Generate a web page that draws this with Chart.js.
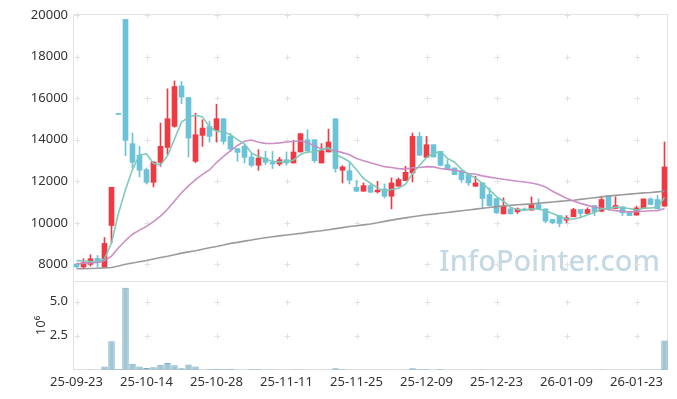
<!DOCTYPE html>
<html><head><meta charset="utf-8">
<script src="https://cdn.jsdelivr.net/npm/chart.js@4.4.1/dist/chart.umd.min.js"></script>
<style>html,body{margin:0;padding:0;background:#fff;}#wrap{position:relative;width:677px;height:399px;}</style>
</head><body><div id="wrap"><canvas id="c" width="677" height="399"></canvas></div>
<script>
const dates = ['25-09-23','25-09-24','25-09-25','25-09-26','25-09-29','25-09-30','25-10-01','25-10-02','25-10-10','25-10-13',
'25-10-14','25-10-15','25-10-16','25-10-17','25-10-20','25-10-21','25-10-22','25-10-23','25-10-24','25-10-27',
'25-10-28','25-10-29','25-10-30','25-10-31','25-11-03','25-11-04','25-11-05','25-11-06','25-11-07','25-11-10',
'25-11-11','25-11-12','25-11-13','25-11-14','25-11-17','25-11-18','25-11-19','25-11-20','25-11-21','25-11-24',
'25-11-25','25-11-26','25-11-27','25-11-28','25-12-01','25-12-02','25-12-03','25-12-04','25-12-05','25-12-08',
'25-12-09','25-12-10','25-12-11','25-12-12','25-12-15','25-12-16','25-12-17','25-12-18','25-12-19','25-12-22',
'25-12-23','25-12-24','25-12-26','25-12-29','25-12-30','26-01-02','26-01-05','26-01-06','26-01-07','26-01-08',
'26-01-09','26-01-12','26-01-13','26-01-14','26-01-15','26-01-16','26-01-19','26-01-20','26-01-21','26-01-22',
'26-01-23','26-01-26','26-01-27','26-01-28','26-01-29'];

const opens = [8010,7870,8000,8290,7870,9870,15220,19790,13810,13250,
12560,11950,12910,13630,14640,16590,16030,12960,14210,14640,
14450,15010,14160,13570,13680,13170,12770,13120,12910,12830,
13040,12880,13410,14000,14000,12880,13410,15010,12530,12510,
11710,11520,11790,11490,11630,11280,11760,12030,12400,14160,
13150,13760,13440,12800,12640,12480,12320,11760,11920,11360,
11170,10430,10670,10530,10670,10610,10880,10670,10160,10350,
10130,10290,10640,10450,10830,10560,11310,10690,10770,10510,
10370,10690,11150,11120,10800];

const highs = [8050,8270,8460,8430,9290,11710,15220,19790,14320,13680,
12640,12930,14800,16450,16830,16800,16030,15280,14960,14880,
15710,15010,14300,13570,13780,13330,13520,13440,13440,13150,
13410,13970,14290,14480,14000,13810,14510,15010,12750,12880,
12030,11920,11850,12000,11870,12160,12160,12720,14320,14350,
14160,13760,13440,13040,12640,12530,12320,12240,11920,11680,
11170,11200,10720,10720,10720,11250,11150,10670,10160,10350,
10350,10700,10640,10720,10830,11280,11310,11250,10770,10510,
10800,11150,11200,11310,13890];

const lows = [7850,7820,7920,7860,7870,9040,15220,13230,12640,12210,
11870,11730,12720,13280,14600,15730,13170,12900,13680,13890,
13890,13780,13450,12960,12880,12690,12530,12800,12610,12750,
12770,12880,13410,13360,12900,12880,13410,12430,11920,11870,
11500,11520,11470,11440,11200,10670,11760,12030,11970,13250,
13150,13170,12740,12560,12320,11950,11800,11760,10670,10800,
10450,10430,10430,10450,10580,10610,10670,10000,9950,9810,
10000,10290,10290,10450,10350,10530,10600,10690,10350,10350,
10370,10690,10880,10670,10800];

const closes = [7880,8080,8270,8080,9010,11710,15220,13970,12910,12530,
11950,12930,13680,15010,16560,16050,14080,14240,14560,14160,
15010,13920,13550,13390,13150,12770,13120,12910,12830,13040,
12880,13410,14290,13470,12990,13470,13890,12610,12690,12050,
11520,11790,11470,11570,11280,11920,12080,12430,14160,13250,
13760,13170,12770,12560,12320,12080,11920,11920,11170,10830,
10480,10800,10430,10670,10610,10880,10670,10080,10000,9970,
10240,10640,10450,10640,10530,11120,10670,10830,10480,10350,
10720,11150,10880,10670,12690];

// volume in millions of shares
const volumes = [0.02,0.02,0.04,0.02,0.25,2.1,0.08,6.0,0.45,0.25,
0.15,0.2,0.38,0.52,0.35,0.13,0.4,0.25,0.04,0.05,
0.09,0.05,0.09,0.01,0.02,0.05,0.05,0.01,0.04,0.01,
0.01,0.04,0.04,0.01,0.01,0.01,0.01,0.12,0.05,0.01,
0.01,0.01,0.01,0.01,0.01,0.01,0.01,0.01,0.12,0.05,
0.05,0.01,0.05,0.01,0.01,0.01,0.01,0.01,0.04,0.01,
0.01,0.01,0.01,0.01,0.01,0.01,0.01,0.01,0.01,0.01,
0.01,0.01,0.01,0.01,0.01,0.04,0.01,0.01,0.01,0.01,
0.01,0.04,0.04,0.04,2.15];

const ma5 = [8180,8160,8140,8150,8264,9030,10458,11598,12564,13268,
13316,12858,12800,13220,14026,14846,15076,15188,15098,14618,
14410,14378,14240,14006,13804,13356,13196,13068,12956,12934,
12956,13014,13290,13418,13408,13526,13622,13286,13130,12942,
12552,12132,11904,11680,11526,11606,11664,11856,12374,12768,
13136,13354,13422,13102,12916,12580,12330,12160,11882,11584,
11264,11040,10742,10642,10598,10678,10652,10582,10448,10320,
10192,10186,10260,10388,10500,10676,10682,10758,10726,10690,
10610,10706,10716,10754,11222];

const ma20 = [8030,8050,8070,8090,8170,8400,8800,9150,9450,9650,
9830,10060,10320,10650,11050,11450,11780,12080,12330,12544,
12901,13193,13457,13722,13929,13982,13877,13824,13820,13846,
13892,13916,13947,13870,13691,13562,13553,13471,13378,13272,
13098,12991,12887,12796,12703,12660,12608,12584,12651,12661,
12705,12693,12617,12572,12538,12469,12370,12336,12260,12199,
12147,12097,12045,12000,11967,11915,11844,11727,11519,11355,
11179,11052,10936,10840,10751,10703,10640,10586,10551,10527,
10539,10557,10580,10580,10684];

const ma120 = [7790,7790,7800,7810,7830,7850,7920,8010,8070,8130,
8190,8260,8330,8390,8460,8540,8600,8660,8730,8800,
8860,8930,9010,9060,9120,9170,9230,9280,9330,9370,
9410,9450,9490,9540,9580,9620,9670,9720,9770,9820,
9860,9900,9940,10000,10070,10130,10190,10240,10290,10340,
10390,10420,10460,10500,10540,10580,10620,10660,10700,10740,
10780,10810,10840,10870,10890,10910,10940,10970,11000,11030,
11060,11090,11130,11170,11210,11250,11290,11320,11350,11380,
11410,11440,11460,11490,11520];

const priceTicks = [8000,10000,12000,14000,16000,18000,20000];
const volumeTicks = [2.5,5.0];
const labelEvery = 10;

const UP = '#ef3a43', DOWN = '#6cc3d8';
const candleColors = opens.map((o,i) => closes[i] > o ? UP : DOWN);
const FONT = '"Noto Sans", "DejaVu Sans", sans-serif';

const decor = {
  id: 'decor',
  beforeDatasetsDraw(chart) {
    const {ctx, chartArea: a, scales} = chart;
    const x = scales.x, y = scales.y, yv = scales.yv;
    ctx.save();
    ctx.font = '500 29px ' + FONT;
    ctx.fillStyle = '#c4d9e4';
    ctx.textAlign = 'right';
    ctx.textBaseline = 'alphabetic';
    ctx.fillText('InfoPointer.com', a.right - 8, y.bottom - 10);
    ctx.strokeStyle = '#e2e2e2';
    ctx.lineWidth = 1;
    const xs = dates.map((d,i) => i).filter(i => i % labelEvery === 0).map(i => Math.round(x.getPixelForValue(i)) + 0.5);
    const ys = priceTicks.map(v => Math.round(y.getPixelForValue(v)) + 0.5)
      .concat(volumeTicks.map(v => Math.round(yv.getPixelForValue(v)) + 0.5));
    ctx.beginPath();
    xs.forEach(px => ys.forEach(py => {
      ctx.moveTo(px - 3, py); ctx.lineTo(px + 3, py);
      ctx.moveTo(px, py - 3); ctx.lineTo(px, py + 3);
    }));
    ctx.stroke();
    ctx.strokeStyle = '#e3e3e3';
    ctx.strokeRect(Math.round(a.left) + 0.5, Math.round(y.top) + 0.5, Math.round(a.right - a.left) - 1, Math.round(y.bottom - y.top));
    ctx.strokeRect(Math.round(a.left) + 0.5, Math.round(yv.top) + 0.5, Math.round(a.right - a.left) - 1, Math.round(yv.bottom - yv.top) - 1);
    ctx.restore();
  }
};

new Chart(document.getElementById('c'), {
  type: 'bar',
  data: {
    labels: dates,
    datasets: [
      {type:'line', label:'MA5', data:ma5, yAxisID:'y', borderColor:'rgba(122,200,184,0.95)', borderWidth:1.6, pointRadius:0, tension:0, order:0},
      {type:'line', label:'MA20', data:ma20, yAxisID:'y', borderColor:'rgba(200,138,195,0.95)', borderWidth:1.6, pointRadius:0, tension:0, order:0},
      {type:'line', label:'MA120', data:ma120, yAxisID:'y', borderColor:'rgba(150,150,150,0.95)', borderWidth:1.6, pointRadius:0, tension:0, order:0},
      {label:'body', data: opens.map((o,i) => [o, closes[i]]), yAxisID:'y', backgroundColor:candleColors, barThickness:5, minBarLength:1, grouped:false, order:1},
      {label:'wick', data: lows.map((l,i) => [l, highs[i]]), yAxisID:'y', backgroundColor:candleColors, barThickness:1, minBarLength:1, grouped:false, order:2},
      {label:'volume', data: volumes, yAxisID:'yv', backgroundColor:'#a0c6d6', borderColor:'#7eaabe', borderWidth:1, barPercentage:1, categoryPercentage:0.92, grouped:false, order:3}
    ]
  },
  options: {
    responsive:false, animation:false, events:[],
    layout:{padding:{top:14, right:9, left:0, bottom:0}},
    plugins:{legend:{display:false}, tooltip:{enabled:false}},
    scales:{
      x:{type:'category', offset:true, grid:{display:false, drawTicks:false}, border:{display:false},
         ticks:{autoSkip:false, maxRotation:0, minRotation:0, padding:4, color:'#333', font:{family:FONT, size:13},
                callback:(v,i) => i % labelEvery === 0 ? dates[i] : ''},
         afterFit:s => { s.height = 29; }},
      yv:{position:'left', stack:'panes', stackWeight:1, min:0, max:6.5,
          afterBuildTicks:s => { s.ticks = volumeTicks.map(v => ({value:v})); },
          grid:{display:false, drawTicks:false}, border:{display:false},
          ticks:{padding:5, color:'#333', font:{family:FONT, size:13}, callback:v => Number(v).toFixed(1)},
          title:{display:true, text:'10⁶', color:'#333', font:{family:FONT, size:13}, padding:{top:33, bottom:0}},
          afterFit:s => { s.width = 73; }},
      y:{position:'left', stack:'panes', stackWeight:3, min:7200, max:20050,
         afterBuildTicks:s => { s.ticks = priceTicks.map(v => ({value:v})); },
         grid:{display:false, drawTicks:false}, border:{display:false},
         ticks:{padding:5, color:'#333', font:{family:FONT, size:13}, callback:v => String(v)},
         afterFit:s => { s.width = 73; }}
    }
  },
  plugins:[decor]
});
</script></body></html>
